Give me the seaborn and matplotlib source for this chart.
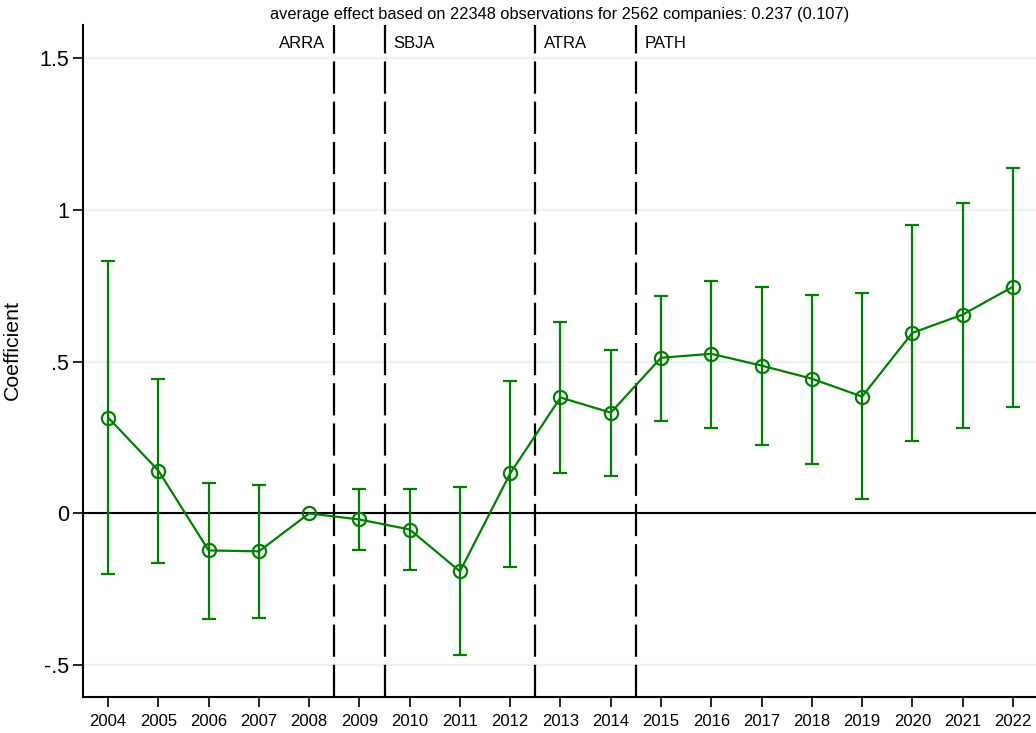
import matplotlib
matplotlib.use("Agg")
import matplotlib.pyplot as plt
import seaborn as sns
import pandas as pd
import numpy as np

years = [2004, 2005, 2006, 2007, 2008, 2009, 2010, 2011, 2012, 2013,
         2014, 2015, 2016, 2017, 2018, 2019, 2020, 2021, 2022]
coef = [0.316, 0.141, -0.122, -0.125, 0.0, -0.020, -0.053, -0.191, 0.132, 0.382,
        0.332, 0.513, 0.526, 0.487, 0.444, 0.385, 0.595, 0.655, 0.747]
ci_low = [-0.200, -0.164, -0.349, -0.345, 0.0, -0.122, -0.187, -0.467, -0.178, 0.132,
          0.122, 0.306, 0.283, 0.227, 0.164, 0.046, 0.240, 0.283, 0.352]
ci_high = [0.832, 0.444, 0.099, 0.092, 0.0, 0.082, 0.079, 0.086, 0.438, 0.632,
           0.539, 0.717, 0.766, 0.747, 0.720, 0.727, 0.951, 1.023, 1.138]
events = ["ARRA", "SBJA", "ATRA", "PATH"]
event_x = [2008.5, 2009.5, 2012.5, 2014.5]
event_side = ["left", "right", "right", "right"]
yticks = [-0.5, 0, 0.5, 1, 1.5]
yticklabels = ["-.5", "0", ".5", "1", "1.5"]
title = "average effect based on 22348 observations for 2562 companies: 0.237 (0.107)"

sns.set_theme(style="white")
plt.rcParams['font.family'] = ['Liberation Sans', 'DejaVu Sans']
plt.rcParams['text.color'] = 'black'
plt.rcParams['axes.labelcolor'] = 'black'
plt.rcParams['xtick.color'] = 'black'
plt.rcParams['ytick.color'] = 'black'

GREEN = "#008000"
df = pd.DataFrame({"year": years, "coef": coef, "lo": ci_low, "hi": ci_high})

fig = plt.figure(figsize=(10.36, 7.33), dpi=100)
ax = fig.add_axes([0.0801, 0.0491, 0.9199, 0.917])

for yv in yticks:
    if yv != 0:
        ax.axhline(yv, color="#EAF2F3", lw=1.6, zorder=0)
ax.axhline(0, color="black", lw=1.5, zorder=1)

for xv in event_x:
    ax.axvline(xv, color="black", lw=1.6, dashes=(14.5, 3.6), zorder=1)

df_ci = df[df["hi"] != df["lo"]]
ax.errorbar(df_ci["year"], df_ci["coef"],
            yerr=[df_ci["coef"] - df_ci["lo"], df_ci["hi"] - df_ci["coef"]],
            fmt="none", ecolor=GREEN, elinewidth=1.6, capsize=5, capthick=1.6, zorder=2)

sns.lineplot(data=df, x="year", y="coef", ax=ax, color=GREEN, lw=1.6,
             marker="o", markersize=9.5, markerfacecolor="none",
             markeredgecolor=GREEN, markeredgewidth=1.6, zorder=3)

for name, xv, side in zip(events, event_x, event_side):
    off = -0.18 if side == "left" else 0.18
    ax.text(xv + off, 1.549, name, ha="right" if side == "left" else "left",
            va="center", fontsize=12, color="black")

ax.set_xlim(2003.5, 2022.46)
ax.set_ylim(-0.605, 1.61)
ax.set_xticks(years)
ax.set_xticklabels([str(y) for y in years], fontsize=12)
ax.set_yticks(yticks)
ax.set_yticklabels(yticklabels, fontsize=15.5)
ax.set_xlabel("")
ax.set_ylabel("Coefficient", fontsize=15.3)
ax.yaxis.set_label_coords(-0.064, 0.516)
ax.set_title(title, fontsize=11.8, y=1.0, pad=4)

for s in ["top", "right"]:
    ax.spines[s].set_visible(False)
for s in ["left", "bottom"]:
    ax.spines[s].set_color("black")
    ax.spines[s].set_linewidth(1.5)
ax.tick_params(axis="both", which="both", direction="out", length=7, width=1.2,
               color="black", left=True, bottom=True)
ax.tick_params(axis="x", pad=5)
ax.tick_params(axis="y", pad=3)

fig.savefig("out.png", dpi=100)
